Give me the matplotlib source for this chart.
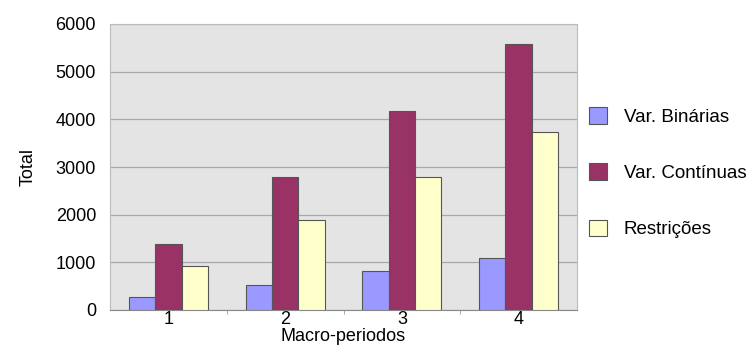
import matplotlib
matplotlib.use("Agg")
import matplotlib.pyplot as plt
import numpy as np

plt.rcParams['font.family'] = ['Liberation Sans', 'DejaVu Sans']

periods = ["1", "2", "3", "4"]
series_names = ["Var. Binárias", "Var. Contínuas", "Restrições"]
binarias = [280, 530, 810, 1090]
continuas = [1380, 2780, 4180, 5590]
restricoes = [930, 1880, 2800, 3730]
colors = ["#9999FF", "#993366", "#FFFFCC"]

fig = plt.figure(figsize=(7.51, 3.52), dpi=100)
ax = fig.add_axes([110/751, 1 - 310/352, 467/751, 286/352])
ax.set_facecolor("#E4E4E4")

x = np.arange(1, len(periods) + 1)
w = 0.225
for i, (vals, name, c) in enumerate(zip([binarias, continuas, restricoes], series_names, colors)):
    ax.bar(x + (i - 1) * w, vals, width=w, color=c, edgecolor="#555555", linewidth=0.8, label=name, zorder=3)

ax.set_xlim(0.5, 4.5)
ax.set_ylim(0, 6000)
ax.set_yticks(range(0, 6001, 1000))
ax.yaxis.grid(True, color="#A8A8A8", linewidth=0.9, zorder=0)
ax.set_axisbelow(True)
ax.set_xticks(x)
ax.set_xticklabels(periods)
ax.set_xticks([1.5, 2.5, 3.5], minor=True)
ax.tick_params(axis='x', which='major', length=0, labelsize=13, pad=1)
ax.tick_params(axis='x', which='minor', length=3, color="#999999")
ax.tick_params(axis='y', length=0, labelsize=13, pad=10)

for s in ["top", "right"]:
    ax.spines[s].set_color("#BBBBBB")
ax.spines["left"].set_color("#BBBBBB")
ax.spines["bottom"].set_color("#888888")

ax.set_xlabel("Macro-periodos", fontsize=13, labelpad=0)
ax.set_ylabel("Total", fontsize=13, labelpad=14)

leg = ax.legend(loc="center left", bbox_to_anchor=(1.0, 0.48), frameon=False,
                fontsize=13.5, handlelength=0.95, handleheight=1.0,
                labelspacing=2.0, handletextpad=0.9, borderaxespad=0.25)

fig.savefig("out.png", dpi=100)
